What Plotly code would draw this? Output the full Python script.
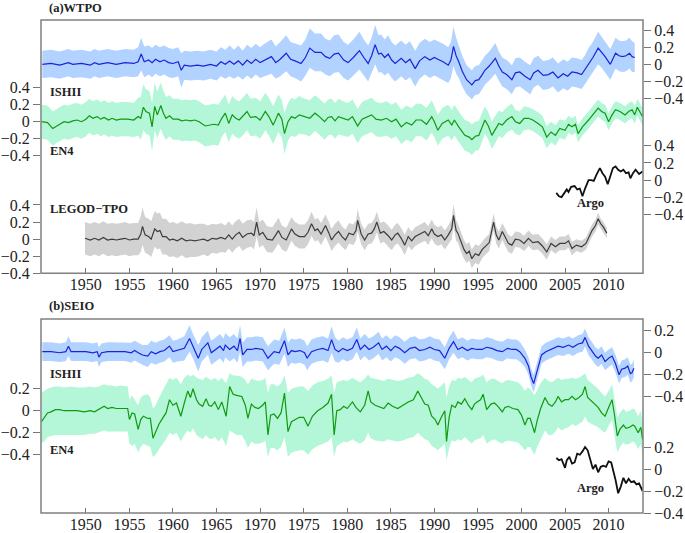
import plotly.graph_objects as go

# ---------------- data ----------------
# (year, anomaly, spread)  -> band = anomaly +/- spread
ishii_a = [
(1945.0,0.00,0.16),(1946.0,0.01,0.16),(1947.0,-0.01,0.16),(1948.0,0.02,0.16),(1948.5,0.00,0.16),(1949.5,0.01,0.16),
(1950.5,-0.01,0.16),(1951.0,0.02,0.16),(1951.5,0.00,0.16),(1952.5,0.02,0.16),(1953.5,0.00,0.16),(1954.5,0.02,0.16),
(1955.5,0.01,0.16),(1956.0,0.03,0.17),(1956.35,0.12,0.19),(1956.7,0.03,0.18),(1957.2,0.05,0.17),(1957.6,0.02,0.17),
(1958.0,0.06,0.17),(1958.5,0.03,0.17),(1959.0,0.05,0.17),(1959.5,0.02,0.17),(1960.0,0.01,0.17),(1960.6,0.03,0.17),
(1960.95,-0.07,0.20),(1961.3,-0.01,0.17),(1962.0,-0.02,0.17),(1962.8,-0.01,0.17),(1963.5,-0.02,0.17),(1964.3,0.00,0.17),
(1965.0,-0.02,0.17),(1965.5,0.03,0.17),(1966.0,0.00,0.17),(1966.5,0.04,0.18),(1967.0,0.00,0.17),(1967.5,0.04,0.18),
(1968.0,-0.01,0.17),(1968.5,0.05,0.18),(1969.0,0.01,0.18),(1969.5,0.06,0.18),(1970.0,0.02,0.18),(1970.5,0.05,0.19),
(1971.3,0.09,0.20),(1971.8,0.02,0.19),(1972.3,0.06,0.20),(1973.0,0.13,0.21),(1973.5,0.06,0.20),(1974.0,0.04,0.20),
(1974.7,0.01,0.21),(1975.2,0.08,0.21),(1975.7,0.19,0.23),(1976.3,0.14,0.22),(1977.0,0.14,0.22),(1977.5,0.09,0.21),
(1978.0,0.07,0.21),(1978.5,0.12,0.22),(1979.0,0.13,0.22),(1979.6,0.05,0.21),(1980.1,0.02,0.21),(1980.7,0.08,0.21),
(1981.4,0.16,0.22),(1981.9,0.08,0.21),(1982.4,0.01,0.21),(1982.8,0.10,0.21),(1983.2,0.23,0.23),(1983.6,0.12,0.22),
(1983.9,0.13,0.22),(1984.3,0.08,0.21),(1984.7,0.12,0.22),(1985.1,0.05,0.21),(1985.5,0.01,0.21),(1986.2,0.07,0.21),
(1986.7,0.02,0.21),(1987.2,0.06,0.21),(1987.8,-0.05,0.21),(1988.3,0.04,0.21),(1988.9,0.09,0.21),(1989.5,0.05,0.21),
(1990.0,0.08,0.21),(1990.4,0.06,0.21),(1991.0,0.03,0.21),(1991.6,-0.01,0.21),(1991.9,0.05,0.21),(1992.2,0.21,0.23),
(1992.5,0.10,0.21),(1992.8,0.03,0.19),(1993.2,-0.08,0.18),(1993.7,-0.18,0.17),(1994.3,-0.24,0.17),(1994.7,-0.19,0.17),
(1995.1,-0.18,0.17),(1995.5,-0.12,0.17),(1995.8,-0.07,0.17),(1996.3,-0.02,0.17),(1997.0,0.07,0.18),(1997.4,-0.02,0.17),
(1997.8,-0.09,0.17),(1998.3,-0.12,0.17),(1998.9,-0.18,0.17),(1999.3,-0.10,0.17),(1999.8,-0.09,0.17),(2000.4,-0.14,0.17),
(2001.0,-0.18,0.17),(2001.4,-0.10,0.17),(2001.9,-0.07,0.17),(2002.5,-0.13,0.17),(2003.1,-0.12,0.17),(2003.6,-0.09,0.17),
(2004.2,-0.16,0.17),(2004.8,-0.11,0.17),(2005.3,-0.14,0.17),(2005.8,-0.09,0.17),(2006.4,-0.10,0.17),(2006.9,-0.12,0.17),
(2007.3,-0.06,0.17),(2007.7,0.01,0.18),(2008.2,0.08,0.18),(2008.8,0.19,0.19),(2009.2,0.14,0.18),(2009.6,0.09,0.18),
(2010.2,0.00,0.18),(2010.8,0.13,0.18),(2011.2,0.10,0.18),(2011.6,0.09,0.18),(2012.0,0.10,0.18),(2012.4,0.13,0.18),
(2012.7,0.09,0.18),(2013.0,0.08,0.17),
]

en4_a = [
(1944.9,0.00,0.20),(1945.6,-0.01,0.20),(1946.2,-0.08,0.20),(1946.6,-0.05,0.20),(1947.0,-0.03,0.20),(1947.5,0.00,0.20),
(1948.0,-0.01,0.20),(1948.5,0.01,0.20),(1949.0,0.02,0.20),(1949.5,0.00,0.20),(1950.0,0.03,0.20),(1950.4,0.07,0.20),
(1950.8,0.04,0.20),(1951.3,0.06,0.20),(1951.7,0.03,0.20),(1952.1,0.05,0.20),(1952.6,0.02,0.20),(1953.0,0.04,0.20),
(1953.5,0.02,0.20),(1954.0,0.03,0.20),(1954.8,0.03,0.20),(1955.5,0.02,0.20),(1956.0,0.06,0.22),(1956.3,0.04,0.25),
(1956.6,0.17,0.27),(1956.9,0.12,0.26),(1957.3,0.10,0.26),(1957.6,-0.06,0.28),(1957.9,0.18,0.28),(1958.2,0.08,0.27),
(1958.6,0.19,0.27),(1958.9,0.10,0.26),(1959.2,0.04,0.25),(1959.6,0.07,0.24),(1960.0,0.03,0.24),(1960.6,0.03,0.24),
(1961.0,0.01,0.24),(1961.5,0.02,0.24),(1962.0,0.01,0.24),(1962.5,0.02,0.24),(1963.0,0.00,0.24),(1963.7,-0.05,0.24),
(1964.2,-0.04,0.24),(1964.7,-0.03,0.24),(1965.2,-0.04,0.24),(1965.6,0.04,0.22),(1966.0,0.10,0.22),(1966.4,-0.02,0.22),
(1966.8,0.08,0.22),(1967.2,0.04,0.22),(1967.6,0.02,0.22),(1968.0,0.06,0.22),(1968.5,0.12,0.22),(1968.9,0.05,0.22),
(1969.5,0.06,0.22),(1970.0,0.02,0.22),(1970.6,0.12,0.22),(1971.0,0.06,0.22),(1971.5,-0.04,0.22),(1972.1,0.10,0.22),
(1972.5,0.03,0.22),(1972.8,-0.14,0.24),(1973.2,0.00,0.22),(1973.6,0.06,0.22),(1974.0,0.04,0.22),(1974.5,0.08,0.22),
(1975.1,0.06,0.21),(1975.7,0.04,0.21),(1976.3,0.10,0.21),(1976.8,0.06,0.21),(1977.4,0.00,0.21),(1977.8,0.05,0.21),
(1978.2,0.06,0.21),(1978.6,0.01,0.21),(1979.0,0.06,0.21),(1979.5,0.04,0.20),(1980.1,0.02,0.20),(1980.6,0.06,0.20),
(1981.2,-0.05,0.20),(1981.7,0.03,0.20),(1982.2,0.05,0.20),(1982.8,0.08,0.20),(1983.3,0.03,0.20),(1983.9,0.02,0.20),
(1984.5,0.04,0.20),(1985.1,0.00,0.20),(1985.6,0.03,0.20),(1986.2,-0.06,0.20),(1986.8,-0.01,0.20),(1987.4,-0.04,0.20),
(1987.9,0.02,0.19),(1988.5,0.02,0.19),(1989.1,-0.03,0.19),(1989.7,0.06,0.19),(1990.0,0.00,0.18),(1990.4,-0.10,0.18),
(1990.9,-0.02,0.18),(1991.6,0.02,0.18),(1992.0,-0.04,0.18),(1992.3,0.02,0.18),(1992.8,-0.06,0.18),(1993.1,-0.10,0.18),
(1993.5,-0.16,0.18),(1994.0,-0.18,0.18),(1994.3,-0.21,0.18),(1994.7,-0.17,0.17),(1995.1,-0.16,0.17),(1995.5,-0.06,0.17),
(1995.8,0.02,0.16),(1996.2,-0.05,0.16),(1996.6,-0.16,0.16),(1997.0,-0.09,0.16),(1997.4,-0.02,0.15),(1997.8,-0.04,0.15),
(1998.3,0.02,0.15),(1998.9,0.06,0.15),(1999.3,0.00,0.14),(1999.8,-0.02,0.14),(2000.3,0.04,0.14),(2000.8,0.04,0.13),
(2001.3,0.02,0.13),(2001.9,-0.02,0.13),(2002.4,-0.06,0.13),(2002.9,-0.18,0.13),(2003.4,-0.12,0.12),(2003.9,-0.16,0.12),
(2004.4,-0.08,0.11),(2005.0,-0.10,0.11),(2005.4,-0.03,0.10),(2005.8,-0.06,0.10),(2006.2,-0.03,0.10),(2006.5,-0.14,0.10),
(2007.0,-0.06,0.10),(2007.7,0.02,0.10),(2008.2,0.08,0.10),(2008.8,0.16,0.10),(2009.2,0.12,0.10),(2009.6,0.10,0.10),
(2010.0,0.00,0.10),(2010.4,0.08,0.10),(2010.8,0.14,0.10),(2011.3,0.12,0.10),(2011.9,0.08,0.10),(2012.3,0.12,0.10),
(2012.7,0.14,0.10),(2013.0,0.08,0.10),(2013.3,0.17,0.10),(2013.9,0.06,0.10),
]

legod_a = [
(1949.9,0.01,0.19),(1950.5,-0.01,0.19),(1951.0,0.01,0.19),(1951.5,-0.01,0.19),(1952.0,0.02,0.19),(1952.5,-0.01,0.19),
(1953.0,0.00,0.19),(1953.5,-0.01,0.19),(1954.0,0.00,0.19),(1954.5,0.01,0.19),(1955.0,-0.01,0.19),(1955.5,0.00,0.19),
(1956.0,0.00,0.19),(1956.3,0.06,0.21),(1956.5,0.15,0.22),(1956.8,0.05,0.21),(1957.2,0.03,0.21),(1957.5,0.00,0.21),
(1957.9,0.12,0.21),(1958.2,0.09,0.21),(1958.5,0.10,0.21),(1958.8,0.03,0.21),(1959.2,0.03,0.21),(1959.6,-0.01,0.20),
(1960.0,0.00,0.20),(1960.5,-0.02,0.20),(1961.0,0.01,0.20),(1961.5,-0.02,0.20),(1962.0,-0.01,0.20),(1962.5,-0.02,0.19),
(1963.0,-0.01,0.19),(1963.5,0.00,0.18),(1964.0,-0.02,0.18),(1964.5,0.01,0.17),(1965.0,0.00,0.17),(1965.5,0.02,0.17),
(1966.0,0.00,0.16),(1966.4,0.05,0.16),(1966.8,0.00,0.16),(1967.2,0.05,0.16),(1967.6,0.08,0.16),(1968.0,0.02,0.16),
(1968.5,0.06,0.16),(1969.0,0.07,0.16),(1969.3,0.04,0.16),(1969.6,0.20,0.17),(1969.9,0.05,0.15),(1970.3,0.08,0.15),
(1970.8,0.00,0.15),(1971.4,-0.01,0.15),(1971.8,0.05,0.15),(1972.1,0.10,0.15),(1972.5,0.02,0.14),(1973.0,-0.01,0.14),
(1973.6,0.12,0.14),(1974.0,0.06,0.14),(1974.5,0.03,0.14),(1975.1,0.03,0.14),(1975.5,0.08,0.14),(1975.9,0.18,0.14),
(1976.3,0.10,0.13),(1976.6,0.12,0.13),(1977.0,0.06,0.13),(1977.5,0.16,0.13),(1977.9,0.07,0.13),(1978.2,-0.01,0.13),
(1978.6,0.05,0.13),(1979.0,0.09,0.13),(1979.4,0.03,0.12),(1979.8,-0.01,0.12),(1980.2,0.07,0.12),(1980.7,0.05,0.12),
(1981.0,0.10,0.12),(1981.2,0.22,0.13),(1981.6,0.06,0.12),(1982.0,-0.01,0.12),(1982.4,0.06,0.12),(1982.8,0.07,0.12),
(1983.1,0.12,0.12),(1983.4,0.20,0.12),(1983.8,0.07,0.12),(1984.2,0.09,0.12),(1984.7,0.04,0.12),(1985.1,-0.01,0.12),
(1985.5,0.05,0.12),(1985.8,0.07,0.12),(1986.2,0.01,0.12),(1986.6,-0.07,0.12),(1987.0,0.03,0.11),(1987.4,-0.02,0.11),
(1987.8,0.03,0.11),(1988.3,0.06,0.11),(1988.9,0.09,0.11),(1989.3,0.04,0.11),(1989.7,0.12,0.11),(1990.0,0.06,0.11),
(1990.4,0.03,0.11),(1990.8,0.05,0.11),(1991.2,-0.01,0.11),(1991.6,0.05,0.11),(1992.0,0.12,0.12),(1992.2,0.28,0.13),
(1992.5,0.10,0.12),(1992.7,0.07,0.11),(1993.1,-0.05,0.11),(1993.4,-0.12,0.11),(1993.7,-0.17,0.11),(1994.0,-0.14,0.11),
(1994.3,-0.23,0.11),(1994.7,-0.17,0.11),(1995.1,-0.19,0.11),(1995.5,-0.12,0.10),(1995.8,-0.09,0.10),(1996.3,-0.04,0.10),
(1996.8,0.20,0.10),(1997.1,0.05,0.10),(1997.4,-0.01,0.10),(1997.8,0.09,0.10),(1998.1,0.03,0.10),(1998.5,-0.05,0.10),
(1998.9,-0.07,0.10),(1999.3,0.00,0.09),(1999.8,-0.01,0.09),(2000.3,-0.05,0.09),(2000.8,0.01,0.09),(2001.3,-0.04,0.09),
(2001.9,-0.03,0.09),(2002.4,-0.08,0.09),(2002.9,-0.15,0.09),(2003.4,-0.05,0.08),(2003.9,-0.09,0.08),(2004.4,-0.05,0.08),
(2005.0,-0.05,0.08),(2005.4,-0.02,0.08),(2005.8,-0.11,0.08),(2006.3,-0.07,0.07),(2006.9,-0.09,0.07),(2007.4,-0.05,0.07),
(2008.1,0.10,0.07),(2008.5,0.16,0.07),(2008.8,0.24,0.07),(2009.1,0.18,0.06),(2009.4,0.14,0.06),(2009.8,0.07,0.06),
]

argo_a = [
(2004.0,-0.15),(2004.3,-0.19),(2004.6,-0.20),(2004.9,-0.16),(2005.2,-0.11),(2005.4,-0.14),(2005.7,-0.08),
(2006.1,-0.07),(2006.4,-0.11),(2006.7,-0.10),(2007.0,-0.19),(2007.3,-0.10),(2007.7,0.00),(2008.0,0.00),
(2008.3,-0.01),(2008.6,0.06),(2009.0,0.14),(2009.3,0.08),(2009.6,0.04),(2009.9,-0.05),(2010.2,0.06),
(2010.5,0.14),(2010.8,0.16),(2011.1,0.12),(2011.4,0.10),(2011.7,0.12),(2012.0,0.08),(2012.3,0.09),
(2012.5,0.02),(2012.8,0.08),(2013.1,0.12),(2013.5,0.07),(2013.9,0.10),
]

ishii_b = [
(1945.0,0.01,0.085),(1946.0,0.01,0.085),(1947.0,0.00,0.085),(1947.7,0.01,0.085),(1948.0,0.06,0.09),(1948.3,0.01,0.085),
(1949.0,0.01,0.085),(1950.0,0.01,0.085),(1950.8,0.00,0.085),(1951.3,0.01,0.085),(1951.5,-0.04,0.09),(1951.8,0.00,0.085),
(1952.5,0.01,0.085),(1953.5,0.01,0.085),(1954.5,0.01,0.085),(1955.2,0.00,0.09),(1955.6,0.02,0.09),(1956.0,0.00,0.09),
(1956.5,-0.02,0.09),(1957.1,-0.03,0.10),(1957.5,0.01,0.10),(1958.0,-0.01,0.10),(1958.5,0.01,0.10),(1959.0,0.02,0.10),
(1959.6,0.06,0.10),(1960.0,0.01,0.10),(1960.5,0.02,0.10),(1961.3,0.04,0.11),(1961.9,0.13,0.12),(1962.3,0.06,0.11),
(1962.9,-0.05,0.12),(1963.3,0.03,0.11),(1964.0,0.09,0.11),(1964.4,0.00,0.11),(1964.9,0.03,0.11),(1965.4,0.06,0.11),
(1965.8,0.02,0.11),(1966.0,0.07,0.11),(1966.5,0.03,0.11),(1967.0,0.06,0.11),(1967.4,0.02,0.11),(1967.7,0.13,0.12),
(1968.0,-0.02,0.11),(1968.5,0.03,0.11),(1969.0,0.03,0.11),(1969.5,0.04,0.11),(1970.3,0.03,0.11),(1970.9,-0.05,0.11),
(1971.6,0.01,0.11),(1972.2,0.00,0.11),(1972.8,0.11,0.12),(1973.2,-0.02,0.11),(1973.6,0.02,0.11),(1974.0,0.01,0.11),
(1974.6,0.02,0.11),(1975.1,0.00,0.11),(1975.4,-0.05,0.11),(1975.9,0.01,0.11),(1976.6,0.03,0.11),(1977.2,0.04,0.11),
(1977.8,0.02,0.11),(1978.2,0.12,0.12),(1978.6,0.03,0.11),(1979.0,0.01,0.10),(1979.5,0.04,0.10),(1980.0,0.02,0.10),
(1980.6,0.04,0.10),(1981.1,0.12,0.11),(1981.5,0.03,0.10),(1982.0,0.07,0.10),(1982.5,0.03,0.10),(1983.0,0.05,0.10),
(1983.6,0.09,0.10),(1984.0,0.03,0.10),(1984.5,0.06,0.10),(1985.0,0.02,0.10),(1985.5,0.06,0.10),(1986.0,0.04,0.10),
(1986.6,0.00,0.10),(1987.2,0.04,0.10),(1987.8,0.05,0.10),(1988.3,0.02,0.10),(1988.9,0.03,0.10),(1989.5,0.05,0.10),
(1990.0,0.03,0.10),(1990.6,0.02,0.10),(1991.2,-0.05,0.10),(1991.7,0.04,0.10),(1992.2,0.10,0.10),(1992.7,0.03,0.09),
(1993.2,0.05,0.09),(1993.8,0.02,0.09),(1994.3,0.04,0.09),(1994.9,0.03,0.09),(1995.5,0.03,0.09),(1996.0,0.05,0.09),
(1996.6,0.04,0.09),(1997.2,0.02,0.09),(1997.8,0.01,0.09),(1998.4,0.04,0.09),(1998.9,0.03,0.09),(1999.4,0.03,0.09),
(1999.8,0.01,0.09),(2000.4,-0.05,0.08),(2000.8,-0.12,0.08),(2001.1,-0.22,0.08),(2001.4,-0.28,0.08),(2001.7,-0.20,0.08),
(2002.0,-0.10,0.08),(2002.3,-0.02,0.08),(2002.8,0.01,0.08),(2003.4,0.03,0.08),(2004.2,0.06,0.08),(2004.8,0.05,0.08),
(2005.4,0.07,0.08),(2005.9,0.05,0.08),(2006.5,0.08,0.08),(2007.0,0.09,0.08),(2007.3,0.14,0.08),(2007.7,0.06,0.08),
(2008.1,0.01,0.08),(2008.5,-0.03,0.08),(2008.8,-0.05,0.08),(2009.2,-0.02,0.08),(2009.6,-0.08,0.08),(2010.0,-0.05,0.08),
(2010.4,-0.03,0.08),(2010.8,-0.10,0.08),(2011.2,-0.20,0.08),(2011.5,-0.15,0.08),(2011.9,-0.14,0.08),(2012.2,-0.12,0.08),
(2012.5,-0.19,0.08),(2012.7,-0.18,0.08),(2012.9,-0.14,0.08),
]

# (year, anomaly, band_low, band_high)
en4_b = [
(1944.9,-0.10,-0.30,0.16),(1945.3,-0.06,-0.27,0.18),(1945.6,-0.02,-0.24,0.20),(1946.0,-0.01,-0.23,0.21),
(1946.5,0.01,-0.22,0.22),(1947.0,0.01,-0.22,0.22),(1947.5,0.00,-0.22,0.21),(1948.3,0.00,-0.22,0.22),
(1949.0,0.00,-0.22,0.21),(1949.8,-0.01,-0.22,0.21),(1950.5,0.00,-0.21,0.22),(1951.0,-0.01,-0.21,0.21),
(1951.5,0.01,-0.20,0.22),(1952.1,0.04,-0.18,0.24),(1952.5,0.02,-0.19,0.23),(1953.0,0.03,-0.19,0.23),
(1953.5,0.02,-0.19,0.22),(1954.0,0.02,-0.19,0.23),(1954.8,0.02,-0.19,0.22),(1955.0,-0.08,-0.30,0.10),
(1955.3,-0.02,-0.32,0.14),(1955.6,-0.03,-0.30,0.10),(1956.0,-0.17,-0.38,0.05),(1956.3,-0.08,-0.33,0.12),
(1956.6,-0.05,-0.30,0.14),(1957.1,-0.07,-0.32,0.15),(1957.4,-0.07,-0.33,0.12),(1957.7,-0.25,-0.42,0.02),
(1958.0,-0.20,-0.40,0.05),(1958.4,-0.12,-0.35,0.12),(1958.8,-0.07,-0.30,0.18),(1959.2,-0.02,-0.26,0.24),
(1959.6,0.10,-0.20,0.30),(1960.0,0.05,-0.22,0.28),(1960.4,0.07,-0.20,0.30),(1960.9,-0.05,-0.28,0.24),
(1961.3,0.07,-0.22,0.30),(1961.7,0.18,-0.18,0.33),(1962.0,0.12,-0.20,0.31),(1962.3,0.20,-0.16,0.33),
(1962.7,0.10,-0.22,0.30),(1963.0,0.06,-0.24,0.29),(1963.4,0.04,-0.26,0.28),(1963.8,0.11,-0.22,0.31),
(1964.1,0.05,-0.25,0.29),(1964.4,0.04,-0.26,0.28),(1964.8,0.08,-0.24,0.30),(1965.2,0.01,-0.28,0.27),
(1965.6,0.08,-0.24,0.30),(1966.1,-0.05,-0.32,0.25),(1966.5,0.22,-0.18,0.34),(1966.9,0.15,-0.20,0.32),
(1967.3,0.14,-0.22,0.32),(1967.9,0.13,-0.22,0.31),(1968.3,0.05,-0.28,0.28),(1968.6,-0.07,-0.34,0.24),
(1969.0,0.06,-0.28,0.29),(1969.4,0.03,-0.30,0.28),(1969.8,0.02,-0.30,0.27),(1970.3,0.05,-0.29,0.28),
(1970.6,0.08,-0.27,0.30),(1970.9,-0.22,-0.42,0.16),(1971.2,-0.04,-0.34,0.24),(1971.6,-0.03,-0.34,0.24),
(1972.0,-0.07,-0.36,0.22),(1972.4,-0.02,-0.33,0.25),(1972.8,0.16,-0.24,0.32),(1973.2,-0.19,-0.42,0.16),
(1973.6,-0.10,-0.38,0.20),(1974.0,-0.08,-0.37,0.21),(1974.5,-0.06,-0.36,0.22),(1975.0,-0.06,-0.36,0.22),
(1975.5,-0.14,-0.40,0.18),(1976.0,-0.05,-0.35,0.23),(1976.6,0.00,-0.32,0.26),(1977.2,0.03,-0.30,0.27),
(1977.8,0.07,-0.28,0.29),(1978.2,0.15,-0.24,0.32),(1978.5,-0.22,-0.42,0.16),(1978.8,0.00,-0.32,0.26),
(1979.2,0.01,-0.30,0.27),(1979.6,0.04,-0.28,0.28),(1980.0,0.02,-0.29,0.27),(1980.6,0.08,-0.26,0.30),
(1981.0,0.03,-0.28,0.28),(1981.5,-0.01,-0.30,0.26),(1982.0,0.05,-0.27,0.29),(1982.4,0.18,-0.20,0.33),
(1982.7,0.08,-0.25,0.30),(1983.2,0.05,-0.27,0.29),(1983.6,0.04,-0.27,0.28),(1984.2,0.02,-0.28,0.27),
(1984.7,0.07,-0.26,0.29),(1985.2,0.04,-0.27,0.28),(1985.8,0.02,-0.28,0.27),(1986.4,0.05,-0.27,0.28),
(1987.0,0.08,-0.25,0.30),(1987.6,0.10,-0.24,0.31),(1988.1,0.18,-0.20,0.34),(1988.5,0.12,-0.23,0.32),
(1988.9,0.06,-0.26,0.29),(1989.3,0.05,-0.27,0.28),(1989.7,-0.05,-0.32,0.24),(1990.1,-0.08,-0.34,0.22),
(1990.4,-0.13,-0.36,0.20),(1990.8,-0.06,-0.33,0.23),(1991.2,0.00,-0.30,0.26),(1991.4,-0.28,-0.45,0.12),
(1991.7,-0.06,-0.34,0.22),(1992.0,0.05,-0.27,0.28),(1992.4,0.03,-0.28,0.27),(1992.7,0.08,-0.26,0.30),
(1993.1,0.06,-0.27,0.29),(1993.5,0.11,-0.24,0.31),(1993.9,0.05,-0.27,0.28),(1994.3,0.01,-0.30,0.26),
(1994.6,0.06,-0.27,0.29),(1994.9,0.08,-0.26,0.30),(1995.3,0.10,-0.25,0.31),(1995.6,0.15,-0.22,0.33),
(1996.0,0.01,-0.30,0.26),(1996.5,0.06,-0.27,0.29),(1996.9,0.07,-0.26,0.29),(1997.3,0.04,-0.28,0.27),
(1997.8,-0.01,-0.30,0.25),(1998.1,0.03,-0.28,0.27),(1998.5,0.04,-0.27,0.28),(1999.0,0.02,-0.28,0.27),
(1999.6,0.01,-0.29,0.26),(2000.0,-0.04,-0.32,0.23),(2000.4,-0.13,-0.36,0.18),(2000.7,-0.07,-0.33,0.21),
(2001.0,-0.07,-0.33,0.20),(2001.5,-0.20,-0.40,0.14),(2001.8,-0.09,-0.33,0.19),(2002.2,0.02,-0.26,0.25),
(2002.7,0.12,-0.18,0.30),(2003.1,0.06,-0.22,0.27),(2003.5,0.04,-0.22,0.26),(2003.9,0.08,-0.19,0.28),
(2004.2,0.13,-0.15,0.30),(2004.6,0.08,-0.18,0.28),(2005.0,0.10,-0.16,0.29),(2005.4,0.10,-0.15,0.29),
(2005.8,0.13,-0.12,0.30),(2006.2,0.10,-0.14,0.29),(2006.6,0.12,-0.12,0.30),(2007.0,0.15,-0.10,0.32),
(2007.3,0.22,-0.05,0.34),(2007.6,0.12,-0.10,0.28),(2008.1,0.08,-0.12,0.25),(2008.5,0.05,-0.14,0.22),
(2008.8,0.03,-0.15,0.20),(2009.2,-0.02,-0.18,0.16),(2009.6,-0.05,-0.20,0.13),(2010.0,0.03,-0.14,0.18),
(2010.4,0.10,-0.08,0.24),(2010.7,-0.05,-0.22,0.10),(2011.0,-0.23,-0.38,-0.06),(2011.3,-0.17,-0.33,-0.02),
(2011.7,-0.13,-0.29,0.02),(2012.0,-0.16,-0.31,-0.01),(2012.4,-0.15,-0.30,0.00),(2012.8,-0.13,-0.28,0.02),
(2013.0,-0.14,-0.29,0.01),(2013.4,-0.20,-0.35,-0.05),(2013.7,-0.15,-0.30,0.00),(2013.9,-0.26,-0.40,-0.11),
]

argo_b = [
(2004.0,0.10),(2004.3,0.08),(2004.6,0.09),(2005.0,0.01),(2005.2,0.08),(2005.5,0.11),(2005.8,0.05),(2006.1,0.06),
(2006.4,0.14),(2006.7,0.13),(2007.0,0.16),(2007.3,0.20),(2007.6,0.17),(2007.9,0.09),(2008.2,0.00),(2008.5,0.04),
(2008.8,-0.03),(2009.1,0.02),(2009.4,0.03),(2009.7,0.02),(2010.0,0.07),(2010.3,0.06),(2010.6,-0.03),(2010.8,-0.10),
(2011.1,-0.22),(2011.4,-0.16),(2011.7,-0.08),(2012.0,-0.13),(2012.3,-0.09),(2012.6,-0.12),(2012.9,-0.11),(2013.2,-0.14),
(2013.5,-0.13),(2013.9,-0.20),
]

x_ticks = [1950, 1955, 1960, 1965, 1970, 1975, 1980, 1985, 1990, 1995, 2000, 2005, 2010]
ticks_a = [0.4, 0.2, 0, -0.2, -0.4]
ticks_b = [0.2, 0, -0.2, -0.4]

def lab(v):
    return "0" if v == 0 else ("\u2212" + f"{abs(v):g}" if v < 0 else f"{v:g}")

# ---------------- styles ----------------
BLUE, BLUE_BAND = "#1c22d8", "#b2d2ff"
GREEN, GREEN_BAND = "#0f9a0f", "#b4f6d8"
GRAY, GRAY_BAND = "#3c3c3c", "#d2d2d2"
TICKFONT = dict(family="Liberation Serif", size=16, color="#222")
LABFONT = dict(family="Liberation Serif", size=12.5, color="#222")

fig = go.Figure()

def add_band(data, xa, ya, line_color, band_color, width=1.2):
    xs = [d[0] for d in data]
    ys = [d[1] for d in data]
    if len(data[0]) == 4:
        lo = [d[2] for d in data]
        up = [d[3] for d in data]
    else:
        up = [d[1] + d[2] for d in data]
        lo = [d[1] - d[2] for d in data]
    fig.add_trace(go.Scatter(x=xs + xs[::-1], y=up + lo[::-1], fill="toself", fillcolor=band_color,
                             line=dict(width=0), mode="lines", xaxis=xa, yaxis=ya, hoverinfo="skip"))
    fig.add_trace(go.Scatter(x=xs, y=ys, mode="lines", line=dict(color=line_color, width=width),
                             xaxis=xa, yaxis=ya))

def add_line(data, xa, ya, color, width):
    fig.add_trace(go.Scatter(x=[d[0] for d in data], y=[d[1] for d in data], mode="lines",
                             line=dict(color=color, width=width), xaxis=xa, yaxis=ya))

# panel (a)
add_band(legod_a, "x", "y3", GRAY, GRAY_BAND)
add_band(en4_a, "x", "y2", GREEN, GREEN_BAND)
add_band(ishii_a, "x", "y", BLUE, BLUE_BAND)
add_line(argo_a, "x", "y4", "#111", 1.8)
# panel (b)
add_band(en4_b, "x2", "y6", GREEN, GREEN_BAND)
add_band(ishii_b, "x2", "y5", BLUE, BLUE_BAND)
add_line(argo_b, "x2", "y7", "#111", 1.8)

XR = [1944.85, 2013.95]
DOM_A = [0.4862, 1.0]
DOM_B = [0.0, 0.3935]

def yax(rng, side, tv, dom=None, overlay=None, anchor="x"):
    d = dict(range=rng, side=side, tickvals=tv, ticktext=[lab(v) for v in tv], ticks="outside",
             ticklen=7, tickcolor="#777", tickwidth=1, showgrid=False, zeroline=False, showline=False,
             tickfont=TICKFONT, anchor=anchor, fixedrange=True, automargin=False)
    if dom is not None:
        d["domain"] = dom
    if overlay is not None:
        d["overlaying"] = overlay
    return d

xcommon = dict(range=XR, tickvals=x_ticks, ticktext=[str(v) for v in x_ticks], ticks="inside", ticklen=5,
               tickcolor="#777", showgrid=False, zeroline=False, showline=False, tickfont=TICKFONT,
               automargin=False, fixedrange=True)

fig.update_layout(
    template="none",
    width=685, height=533, margin=dict(l=41, r=42, t=20, b=20, autoexpand=False),
    paper_bgcolor="white", plot_bgcolor="white", showlegend=False,
    xaxis=dict(domain=[0, 1], anchor="y", **xcommon),
    xaxis2=dict(domain=[0, 1], anchor="y5", **xcommon),
    yaxis=yax([-2.447, 0.519], "right", ticks_a, dom=DOM_A),
    yaxis2=yax([-1.775, 1.191], "left", ticks_a, overlay="y"),
    yaxis3=yax([-0.4, 2.566], "left", ticks_a, overlay="y"),
    yaxis4=yax([-1.092, 1.874], "right", ticks_a, overlay="y"),
    yaxis5=yax([-1.457, 0.307], "right", ticks_b, dom=DOM_B, anchor="x2"),
    yaxis6=yax([-0.930, 0.834], "left", ticks_b, overlay="y5", anchor="x2"),
    yaxis7=yax([-0.400, 1.364], "right", ticks_b, overlay="y5", anchor="x2"),
)

for xr, yr in (("x domain", "y domain"), ("x2 domain", "y5 domain")):
    fig.add_shape(type="rect", xref=xr, yref=yr, x0=0, x1=1, y0=0, y1=1,
                  line=dict(color="#808080", width=1.5), layer="above")

def note(text, x, y, xa, ya, xanchor="left"):
    fig.add_annotation(text=f"<b>{text}</b>", x=x, y=y, xref=xa, yref=ya, showarrow=False,
                       xanchor=xanchor, yanchor="middle", font=LABFONT)

note("(a)WTPO", 0.010, 1.0243, "paper", "paper")
note("(b)SEIO", 0.010, (513 - 305.7) / 493, "paper", "paper")
note("ISHII", 1945.64, -0.324, "x", "y")
note("EN4", 1945.64, -0.343, "x", "y2")
note("LEGOD\u2212TPO", 1945.64, 0.351, "x", "y3")
note("Argo", 2007.97, -0.273, "x", "y4", "center")
note("ISHII", 1945.64, -0.196, "x2", "y5")
note("EN4", 1945.64, -0.357, "x2", "y6")
note("Argo", 2007.9, -0.175, "x2", "y7", "center")

fig.write_html("out.html", config={"displayModeBar": False},
               post_script="document.body.style.margin='0';document.body.style.overflow='hidden';")
